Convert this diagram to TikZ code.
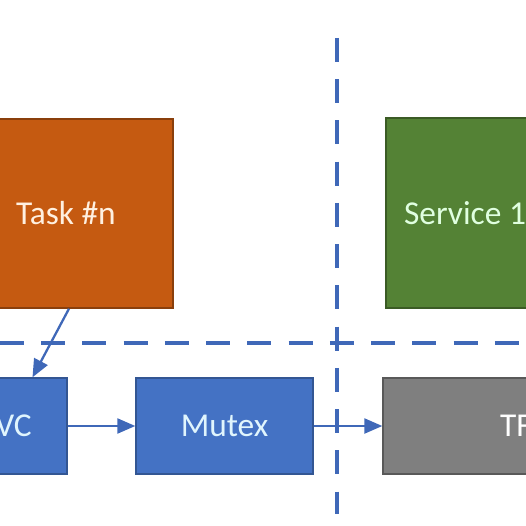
\documentclass[tikz,border=0pt]{standalone}
\usepackage{fontspec}
\setmainfont{Carlito}
\usepackage{tikz}
\usetikzlibrary{arrows.meta}
\definecolor{taskorange}{HTML}{C55A11}
\definecolor{servicegreen}{HTML}{548235}
\definecolor{ipcblue}{HTML}{4472C4}
\definecolor{tfgray}{HTML}{7F7F7F}
\definecolor{lineblue}{HTML}{3F68B8}

\begin{document}
\begin{tikzpicture}[x=0.02cm,y=-0.02cm,
    box/.style={draw, line width=0.8pt, inner sep=0pt,
      font=\fontsize{19}{23}\selectfont},
    taskbox/.style={box, fill=taskorange, draw=taskorange!70!black,
      text=white!88!orange, minimum width=4.28cm, minimum height=3.78cm},
    servicebox/.style={box, fill=servicegreen, draw=servicegreen!70!black,
      text=white!88!green, minimum width=3.16cm, minimum height=3.8cm},
    ipcbox/.style={box, fill=ipcblue, draw=ipcblue!75!black,
      text=white!88!cyan, minimum height=1.92cm},
    tfbox/.style={box, fill=tfgray, draw=tfgray!70!black,
      text=white, minimum width=5.32cm, minimum height=1.92cm},
    border/.style={lineblue, line width=2.4pt, dash pattern=on 0.48cm off 0.345cm},
    flow/.style={lineblue, line width=1.3pt, -{Triangle[length=0.36cm,width=0.3cm]}}]
  \useasboundingbox (0,0) rectangle (526,526);
  \clip (0,0) rectangle (526,526);

  \node (task) at (66,213.5) [taskbox] {Task \#n};
  \node (service) at (465,213) [servicebox] {Service 1};
  \node (vc) at (13.5,426) [ipcbox, minimum width=2.14cm] {VC};
  \node (mutex) at (224.5,426) [ipcbox, minimum width=3.54cm] {Mutex};
  \node (tf) at (516,426) [tfbox] {TF};

  \coordinate (hleft) at (0,343);
  \coordinate (hright) at (530,343);
  \coordinate (vtop) at (337,38);
  \coordinate (vbottom) at (337,514);

  \draw[border] (hleft) -- (hright);
  \draw[border] (vtop) -- (vbottom);

  \draw[flow] ([xshift=0.06cm]task.south) to ([xshift=0.38cm]vc.north);
  \draw[flow]
  (vc) to (mutex);
  \draw[flow]
  (mutex) to (tf);
\end{tikzpicture}
\end{document}
